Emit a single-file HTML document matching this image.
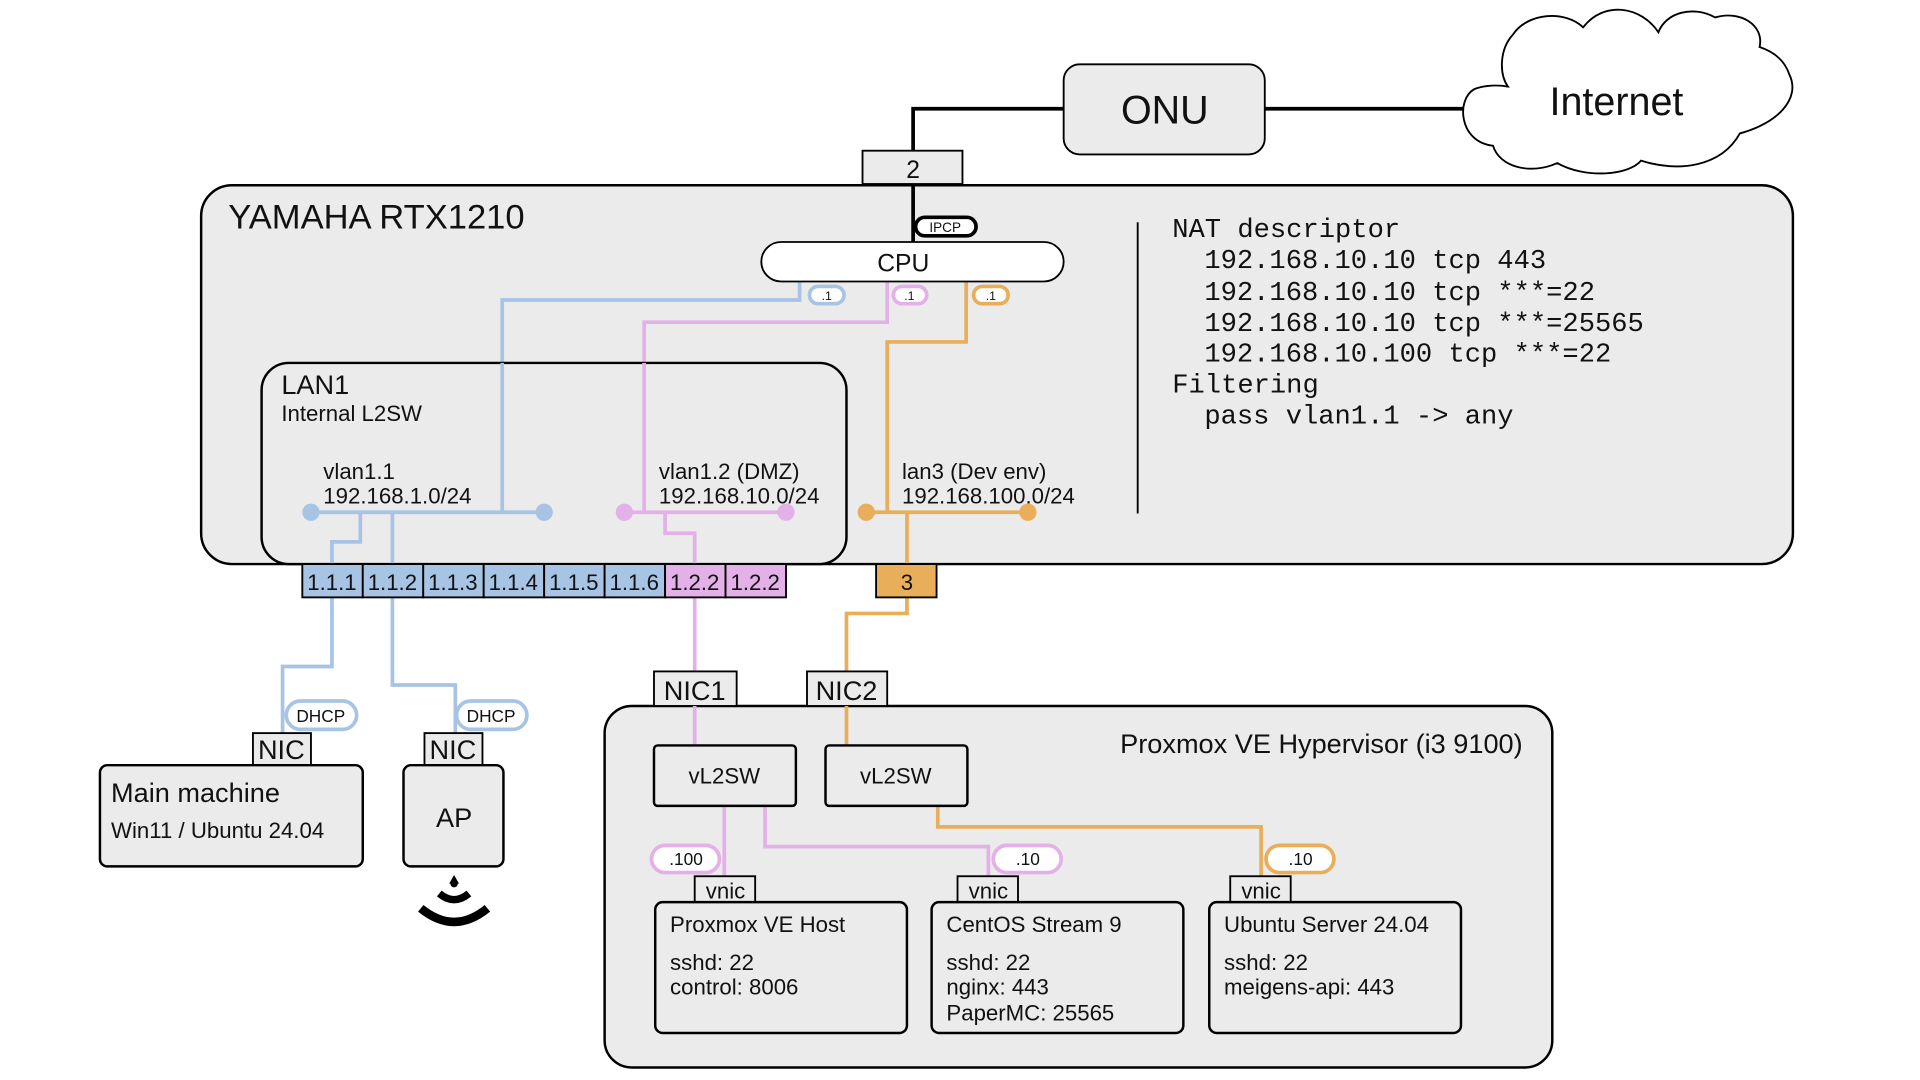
<!DOCTYPE html>
<html><head><meta charset="utf-8"><style>html,body{margin:0;padding:0;background:#fff}svg{display:block}
text{font-family:"Liberation Sans",sans-serif;fill:#111}
.m{font-family:"Liberation Mono",monospace}
</style></head><body>
<svg width="1920" height="1080" viewBox="0 0 1556 875" xmlns="http://www.w3.org/2000/svg">
<rect width="1556" height="875" fill="#fff"/>
<path d="M740 196 V88 H862 M1025 88 H1195" fill="none" stroke="#000" stroke-width="3"/>
<rect x="862" y="52" width="163" height="73" rx="13" fill="#ebebeb" stroke="#000" stroke-width="1.5"/>
<text x="944" y="100" font-size="32" text-anchor="middle">ONU</text>
<path d="M1195 72 C1180 80 1182 115 1210 118 C1215 135 1240 142 1262 132 C1285 145 1320 142 1330 130 C1360 140 1395 135 1410 108 C1440 100 1460 80 1450 60 C1445 45 1432 40 1426 38 C1430 20 1410 8 1390 14 C1372 4 1350 10 1344 26 C1330 5 1300 0 1283 22 C1268 8 1238 10 1226 28 C1215 40 1215 60 1222 70 C1210 68 1200 70 1195 72 Z" fill="#fff" stroke="#000" stroke-width="1.5"/>
<text x="1310" y="93" font-size="32" text-anchor="middle">Internet</text>
<rect x="163" y="150" width="1290" height="307" rx="25" fill="#ebebeb" stroke="#000" stroke-width="2"/>
<rect x="699" y="122" width="81" height="27" fill="#ebebeb" stroke="#000" stroke-width="1.5"/>
<text x="740" y="144" font-size="20" text-anchor="middle">2</text>
<line x1="740" y1="149" x2="740" y2="196" stroke="#000" stroke-width="3"/>
<text x="185" y="185" font-size="28">YAMAHA RTX1210</text>
<path d="M648 228 V243 H407 V415" fill="none" stroke="#a7c4e4" stroke-width="3"/>
<path d="M719 228 V261 H522 V415" fill="none" stroke="#e3b0e8" stroke-width="3"/>
<path d="M783 228 V277 H719 V415" fill="none" stroke="#e8ae5a" stroke-width="3"/>
<rect x="617" y="196" width="245" height="32" rx="16" fill="#fff" stroke="#000" stroke-width="1.5"/>
<text x="732" y="220" font-size="20" text-anchor="middle">CPU</text>
<rect x="742" y="176" width="49" height="15" rx="7.5" fill="#fff" stroke="#000" stroke-width="3"/>
<text x="766" y="188" font-size="11" text-anchor="middle">IPCP</text>
<rect x="656" y="232" width="28" height="14" rx="7" fill="#fff" stroke="#a7c4e4" stroke-width="3"/>
<text x="670" y="243" font-size="10" text-anchor="middle">.1</text>
<rect x="724" y="232" width="27" height="14" rx="7" fill="#fff" stroke="#e3b0e8" stroke-width="3"/>
<text x="737" y="243" font-size="10" text-anchor="middle">.1</text>
<rect x="789" y="232" width="28" height="14" rx="7" fill="#fff" stroke="#e8ae5a" stroke-width="3"/>
<text x="803" y="243" font-size="10" text-anchor="middle">.1</text>
<rect x="212" y="294" width="474" height="163" rx="22" fill="#ebebeb" stroke="#000" stroke-width="2"/>
<line x1="407" y1="294" x2="407" y2="415" stroke="#a7c4e4" stroke-width="3"/>
<line x1="522" y1="294" x2="522" y2="415" stroke="#e3b0e8" stroke-width="3"/>
<text x="228" y="319" font-size="22">LAN1</text>
<text x="228" y="341" font-size="18">Internal L2SW</text>
<text x="262" y="388" font-size="18">vlan1.1</text>
<text x="262" y="408" font-size="18">192.168.1.0/24</text>
<text x="534" y="388" font-size="18">vlan1.2 (DMZ)</text>
<text x="534" y="408" font-size="18">192.168.10.0/24</text>
<text x="731" y="388" font-size="18">lan3 (Dev env)</text>
<text x="731" y="408" font-size="18">192.168.100.0/24</text>
<g stroke-width="3" fill="none">
<line x1="252" y1="415" x2="441" y2="415" stroke="#a7c4e4"/>
<line x1="506" y1="415" x2="637" y2="415" stroke="#e3b0e8"/>
<line x1="702" y1="415" x2="833" y2="415" stroke="#e8ae5a"/>
<path d="M292 415 V439 H269 V540 H229 V596" stroke="#a7c4e4"/>
<path d="M318 415 V555 H369 V596" stroke="#a7c4e4"/>
<path d="M539 415 V432 H563 V545 M563 572 V604" stroke="#e3b0e8"/>
<path d="M735 415 V497 H686 V545 M686 572 V604" stroke="#e8ae5a"/>
</g>
<circle cx="252" cy="415" r="7" fill="#a7c4e4"/><circle cx="441" cy="415" r="7" fill="#a7c4e4"/>
<circle cx="506" cy="415" r="7" fill="#e3b0e8"/><circle cx="637" cy="415" r="7" fill="#e3b0e8"/>
<circle cx="702" cy="415" r="7" fill="#e8ae5a"/><circle cx="833" cy="415" r="7" fill="#e8ae5a"/>
<line x1="922" y1="180" x2="922" y2="416" stroke="#000" stroke-width="1.5"/>
<g font-size="22">
<text class="m" x="950" y="192">NAT descriptor</text>
<text class="m" x="976" y="217">192.168.10.10 tcp 443</text>
<text class="m" x="976" y="243">192.168.10.10 tcp ***=22</text>
<text class="m" x="976" y="268">192.168.10.10 tcp ***=25565</text>
<text class="m" x="976" y="293">192.168.10.100 tcp ***=22</text>
<text class="m" x="950" y="318">Filtering</text>
<text class="m" x="976" y="343">pass vlan1.1 -&gt; any</text>
</g>
<g stroke="#000" stroke-width="1.5">
<rect x="245" y="457" width="49" height="27" fill="#a7c4e4"/>
<rect x="294" y="457" width="49" height="27" fill="#a7c4e4"/>
<rect x="343" y="457" width="49" height="27" fill="#a7c4e4"/>
<rect x="392" y="457" width="49" height="27" fill="#a7c4e4"/>
<rect x="441" y="457" width="49" height="27" fill="#a7c4e4"/>
<rect x="490" y="457" width="49" height="27" fill="#a7c4e4"/>
<rect x="539" y="457" width="49" height="27" fill="#e3b0e8"/>
<rect x="588" y="457" width="49" height="27" fill="#e3b0e8"/>
<rect x="710" y="457" width="49" height="27" fill="#e8ae5a"/>
</g>
<g font-size="18" text-anchor="middle">
<text x="269" y="478">1.1.1</text><text x="318" y="478">1.1.2</text><text x="367" y="478">1.1.3</text>
<text x="416" y="478">1.1.4</text><text x="465" y="478">1.1.5</text><text x="514" y="478">1.1.6</text>
<text x="563" y="478">1.2.2</text><text x="612" y="478">1.2.2</text><text x="735" y="478">3</text>
</g>
<rect x="232" y="568" width="57" height="23" rx="11.5" fill="#fff" stroke="#a7c4e4" stroke-width="3"/>
<text x="260" y="585" font-size="14" text-anchor="middle">DHCP</text>
<rect x="370" y="568" width="57" height="23" rx="11.5" fill="#fff" stroke="#a7c4e4" stroke-width="3"/>
<text x="398" y="585" font-size="14" text-anchor="middle">DHCP</text>
<rect x="205" y="594" width="47" height="26" fill="#ebebeb" stroke="#000" stroke-width="1.5"/>
<text x="228" y="615" font-size="22" text-anchor="middle">NIC</text>
<rect x="344" y="594" width="47" height="26" fill="#ebebeb" stroke="#000" stroke-width="1.5"/>
<text x="367" y="615" font-size="22" text-anchor="middle">NIC</text>
<rect x="81" y="620" width="213" height="82" rx="6" fill="#ebebeb" stroke="#000" stroke-width="2"/>
<text x="90" y="650" font-size="22">Main machine</text>
<text x="90" y="679" font-size="18">Win11 / Ubuntu 24.04</text>
<rect x="327" y="620" width="81" height="82" rx="6" fill="#ebebeb" stroke="#000" stroke-width="2"/>
<text x="368" y="670" font-size="22" text-anchor="middle">AP</text>
<circle cx="368" cy="716" r="3" fill="#000"/>
<path d="M364 716 L368 709 L372 716 Z" fill="#000"/>
<path d="M356 724 Q368 734 380 724" fill="none" stroke="#000" stroke-width="6"/>
<path d="M341 736 Q368 758 395 736" fill="none" stroke="#000" stroke-width="7"/>
<rect x="490" y="572" width="768" height="293" rx="22" fill="#ebebeb" stroke="#000" stroke-width="2"/>
<rect x="530" y="544" width="67" height="28" fill="#ebebeb" stroke="#000" stroke-width="1.5"/>
<text x="563" y="567" font-size="22" text-anchor="middle">NIC1</text>
<rect x="654" y="544" width="65" height="28" fill="#ebebeb" stroke="#000" stroke-width="1.5"/>
<text x="686" y="567" font-size="22" text-anchor="middle">NIC2</text>
<line x1="563" y1="572" x2="563" y2="604" stroke="#e3b0e8" stroke-width="3"/>
<line x1="686" y1="572" x2="686" y2="604" stroke="#e8ae5a" stroke-width="3"/>
<text x="1234" y="610" font-size="22" text-anchor="end">Proxmox VE Hypervisor (i3 9100)</text>
<g fill="none" stroke-width="3">
<path d="M587 653 V710" stroke="#e3b0e8"/>
<path d="M620 653 V686 H801 V710" stroke="#e3b0e8"/>
<path d="M760 653 V670 H1022 V710" stroke="#e8ae5a"/>
</g>
<rect x="530" y="604" width="115" height="49" rx="3" fill="#ebebeb" stroke="#000" stroke-width="2"/>
<text x="587" y="635" font-size="18" text-anchor="middle">vL2SW</text>
<rect x="669" y="604" width="115" height="49" rx="3" fill="#ebebeb" stroke="#000" stroke-width="2"/>
<text x="726" y="635" font-size="18" text-anchor="middle">vL2SW</text>
<rect x="528" y="685" width="55" height="22" rx="11" fill="#fff" stroke="#e3b0e8" stroke-width="3"/>
<text x="556" y="701" font-size="14" text-anchor="middle">.100</text>
<rect x="805" y="685" width="55" height="22" rx="11" fill="#fff" stroke="#e3b0e8" stroke-width="3"/>
<text x="833" y="701" font-size="14" text-anchor="middle">.10</text>
<rect x="1026" y="685" width="55" height="22" rx="11" fill="#fff" stroke="#e8ae5a" stroke-width="3"/>
<text x="1054" y="701" font-size="14" text-anchor="middle">.10</text>
<g stroke="#000" stroke-width="1.5" fill="#ebebeb">
<rect x="563" y="710" width="49" height="21"/><rect x="776" y="710" width="49" height="21"/><rect x="997" y="710" width="49" height="21"/>
</g>
<g font-size="18" text-anchor="middle">
<text x="588" y="728">vnic</text><text x="801" y="728">vnic</text><text x="1022" y="728">vnic</text>
</g>
<g fill="#ebebeb" stroke="#000" stroke-width="2">
<rect x="531" y="731" width="204" height="106" rx="6"/>
<rect x="755" y="731" width="204" height="106" rx="6"/>
<rect x="980" y="731" width="204" height="106" rx="6"/>
</g>
<g font-size="18">
<text x="543" y="755">Proxmox VE Host</text><text x="543" y="786">sshd: 22</text><text x="543" y="806">control: 8006</text>
<text x="767" y="755">CentOS Stream 9</text><text x="767" y="786">sshd: 22</text><text x="767" y="806">nginx: 443</text><text x="767" y="827">PaperMC: 25565</text>
<text x="992" y="755">Ubuntu Server 24.04</text><text x="992" y="786">sshd: 22</text><text x="992" y="806">meigens-api: 443</text>
</g>
</svg>
</body></html>
